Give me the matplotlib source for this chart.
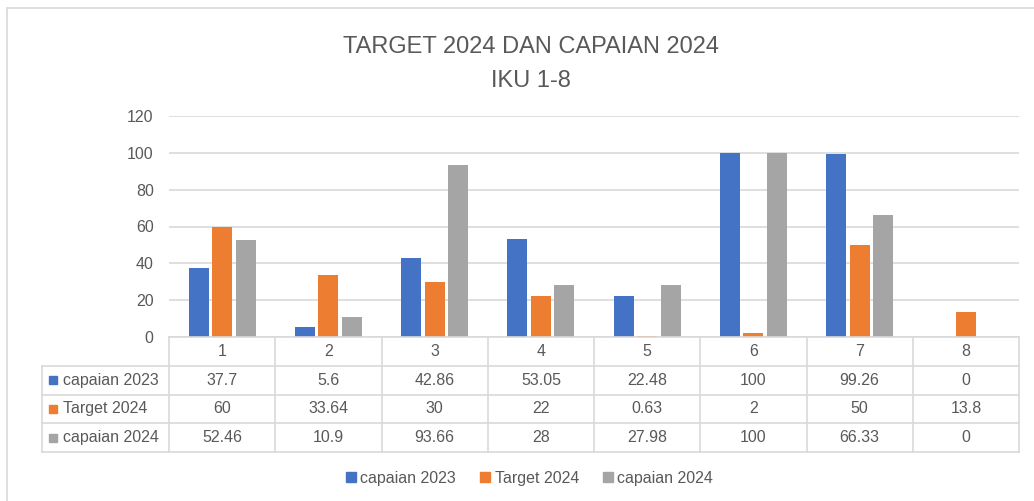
import matplotlib
matplotlib.use("Agg")
import matplotlib.pyplot as plt
from matplotlib.lines import Line2D
from matplotlib.patches import Rectangle

plt.rcParams['font.family'] = ['Liberation Sans', 'DejaVu Sans']

categories = ["1", "2", "3", "4", "5", "6", "7", "8"]
series_names = ["capaian 2023", "Target 2024", "capaian 2024"]
capaian_2023 = [37.7, 5.6, 42.86, 53.05, 22.48, 100, 99.26, 0]
target_2024 = [60, 33.64, 30, 22, 0.63, 2, 50, 13.8]
capaian_2024 = [52.46, 10.9, 93.66, 28, 27.98, 100, 66.33, 0]
yticks = [0, 20, 40, 60, 80, 100, 120]
title = "TARGET 2024 DAN CAPAIAN 2024\nIKU 1-8"

colors = ["#4472C4", "#ED7D31", "#A5A5A5"]
text_color = "#595959"
grid_color = "#D9D9D9"

W, H = 1034, 501
fig = plt.figure(figsize=(W / 100, H / 100), dpi=100)

def px_axes(x0, y0, x1, y1):
    return fig.add_axes([x0 / W, 1 - y1 / H, (x1 - x0) / W, (y1 - y0) / H])

# outer chart border
fig.patches.append(Rectangle((7 / W, -0.05), 1.1, 1 - 8 / H + 0.05, transform=fig.transFigure,
                             fill=False, edgecolor="#D9D9D9", linewidth=1.2))

# main bar axes
ax = px_axes(169, 116, 1019, 337)
series = [capaian_2023, target_2024, capaian_2024]
n = len(categories)
xs = list(range(1, n + 1))
bw = 0.188
step = 0.221
for k, (vals, c) in enumerate(zip(series, colors)):
    ax.bar([x + (k - 1) * step for x in xs], vals, width=bw, color=c, zorder=3)
ax.set_xlim(0.5, n + 0.5)
ax.set_ylim(0, 120)
ax.set_yticks(yticks)
ax.set_yticklabels([str(t) for t in yticks])
ax.set_xticks([])
ax.grid(axis="y", color=grid_color, linewidth=1.2, zorder=0)
for s in ax.spines.values():
    s.set_visible(False)
ax.tick_params(axis="y", length=0, pad=11, labelsize=11.5, labelcolor=text_color)
ax.set_facecolor("none")

# data table
tax = px_axes(42, 337, 1019, 452)
left_data = 0.5 - (169 - 42) / ((1019 - 169) / n)
tax.set_xlim(left_data, n + 0.5)
tax.set_ylim(4, 0)
tax.axis("off")
lc = "#D9D9D9"
lw = 1.2
tax.plot([0.5, n + 0.5], [0, 0], color=lc, lw=lw, clip_on=False)
for r in range(1, 5):
    tax.plot([left_data, n + 0.5], [r, r], color=lc, lw=lw, clip_on=False)
tax.plot([left_data, left_data], [1, 4], color=lc, lw=lw, clip_on=False)
for i in range(n + 1):
    tax.plot([0.5 + i, 0.5 + i], [0, 4], color=lc, lw=lw, clip_on=False)
fs = 11.5
for i, cat in enumerate(categories):
    tax.text(i + 1, 0.5, cat, ha="center", va="center", fontsize=fs, color=text_color)
for r, (name, vals, c) in enumerate(zip(series_names, series, colors)):
    y = r + 1.5
    tax.plot([left_data + 0.1], [y], marker="s", markersize=6, color=c, linestyle="none", clip_on=False)
    tax.text(left_data + 0.2, y, name, ha="left", va="center", fontsize=fs, color=text_color)
    for i, v in enumerate(vals):
        tax.text(i + 1, y, f"{v:g}", ha="center", va="center", fontsize=fs, color=text_color)

# title
fig.text(531 / W, 1 - 64 / H, title, ha="center", va="center", fontsize=17,
         color=text_color, linespacing=1.72)

# legend
handles = [Line2D([], [], marker="s", markersize=7, color=c, linestyle="none") for c in colors]
leg = fig.legend(handles, series_names, loc="center", bbox_to_anchor=(528 / W, 1 - 478 / H),
                 ncol=3, frameon=False, fontsize=fs, handletextpad=0.1, columnspacing=1.3,
                 labelcolor=text_color, handlelength=1.0)

fig.savefig("out.png", dpi=100)
